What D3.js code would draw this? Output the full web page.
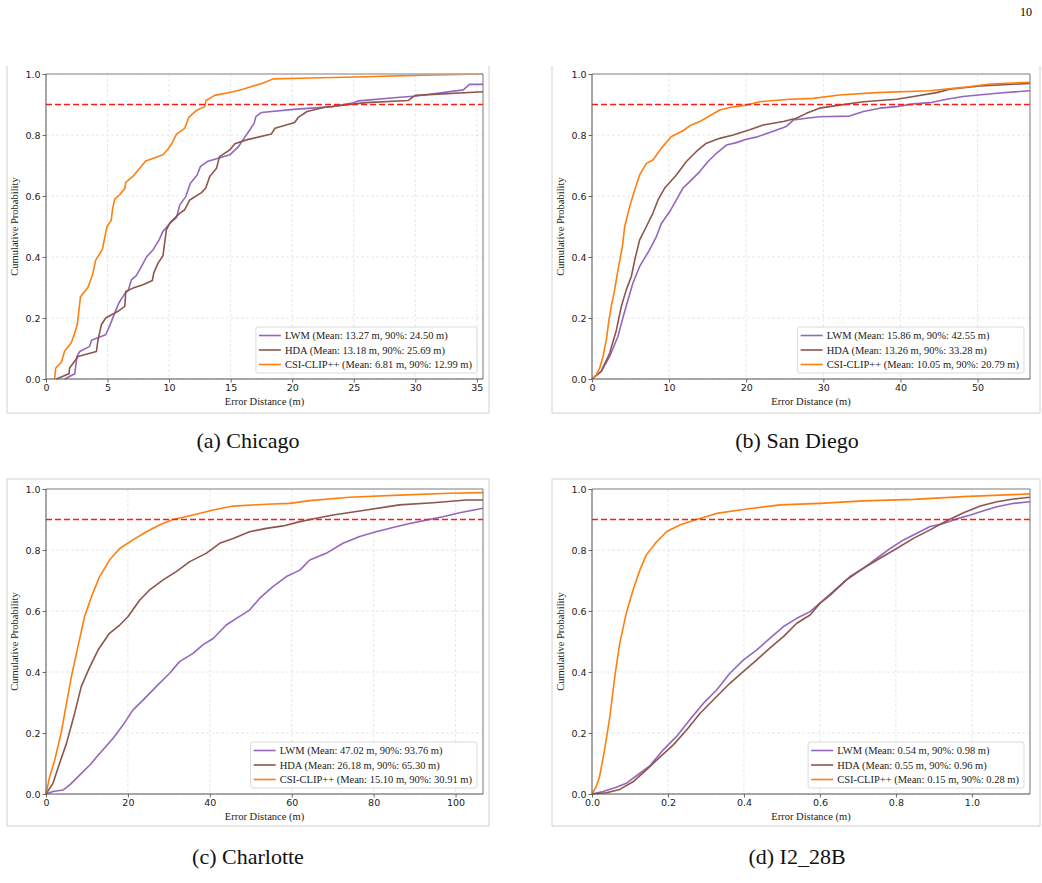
<!DOCTYPE html>
<html>
<head>
<meta charset="utf-8">
<script src="https://cdn.jsdelivr.net/npm/d3@7"></script>
<style>
  body { margin: 0; background: #fff; }
  svg { display: block; }
  .tick text { font-family: "DejaVu Sans", sans-serif; font-size: 9.5px; fill: #222; }
</style>
</head>
<body>
<svg id="fig" width="1042" height="883"></svg>
<script>
// ---- data ----
var seriesNames = ["LWM", "HDA", "CSI-CLIP++"];
var seriesColors = ["#9467bd", "#8c564b", "#ff7f0e"];
var captions = ["(a) Chicago", "(b) San Diego", "(c) Charlotte", "(d) I2_28B"];

var legendStats = [
  ["(Mean: 13.27 m, 90%: 24.50 m)", "(Mean: 13.18 m, 90%: 25.69 m)", "(Mean: 6.81 m, 90%: 12.99 m)"],
  ["(Mean: 15.86 m, 90%: 42.55 m)", "(Mean: 13.26 m, 90%: 33.28 m)", "(Mean: 10.05 m, 90%: 20.79 m)"],
  ["(Mean: 47.02 m, 90%: 93.76 m)", "(Mean: 26.18 m, 90%: 65.30 m)", "(Mean: 15.10 m, 90%: 30.91 m)"],
  ["(Mean: 0.54 m, 90%: 0.98 m)", "(Mean: 0.55 m, 90%: 0.96 m)", "(Mean: 0.15 m, 90%: 0.28 m)"]
];

var xMax = [35.5, 56.8, 106.7, 1.153];
var xTicks = [
  [0, 5, 10, 15, 20, 25, 30, 35],
  [0, 10, 20, 30, 40, 50],
  [0, 20, 40, 60, 80, 100],
  [0, 0.2, 0.4, 0.6, 0.8, 1.0]
];
var yTicks = [0, 0.2, 0.4, 0.6, 0.8, 1.0];
var threshold = 0.9;

// CDF points [error, probability]
var chicagoLWM = [[1.52,0],[2.33,0.017],[2.52,0.074],[2.74,0.09],[3.55,0.107],[3.69,0.127],[4.36,0.138],[4.85,0.145],[5.18,0.175],[5.58,0.216],[5.93,0.25],[6.4,0.28],[6.67,0.29],[6.94,0.325],[7.35,0.34],[7.6,0.358],[7.88,0.378],[8.16,0.40],[8.7,0.424],[9.19,0.456],[9.5,0.484],[10.05,0.509],[10.6,0.53],[10.87,0.571],[11.35,0.598],[11.73,0.642],[12.28,0.669],[12.55,0.697],[13.1,0.713],[13.85,0.722],[14.93,0.735],[15.6,0.76],[16.0,0.784],[16.56,0.817],[16.9,0.838],[17.05,0.86],[17.5,0.874],[20.1,0.884],[23.3,0.893],[25.0,0.906],[25.4,0.912],[28.75,0.924],[30.1,0.928],[33.9,0.948],[34.4,0.966],[35.5,0.966]];
var chicagoHDA = [[0.84,0],[1.87,0.017],[1.92,0.036],[2.6,0.074],[4.09,0.09],[4.23,0.129],[4.5,0.178],[4.85,0.2],[5.85,0.222],[6.4,0.238],[6.48,0.287],[7.07,0.298],[7.88,0.309],[8.64,0.323],[8.75,0.347],[9.1,0.38],[9.5,0.404],[9.78,0.489],[10.05,0.511],[10.87,0.544],[11.27,0.555],[11.68,0.587],[12.63,0.611],[12.98,0.626],[13.3,0.664],[13.85,0.691],[14.1,0.729],[14.93,0.751],[15.34,0.771],[16.29,0.784],[18.3,0.803],[18.6,0.822],[20.2,0.841],[20.5,0.858],[21.2,0.877],[22.66,0.891],[26.0,0.906],[29.4,0.913],[30.0,0.93],[35.5,0.942]];
var chicagoCLIP = [[0.7,0],[0.79,0.036],[1.25,0.055],[1.5,0.09],[2.06,0.12],[2.33,0.15],[2.55,0.18],[2.8,0.27],[3.4,0.30],[3.77,0.34],[4.04,0.39],[4.58,0.425],[4.85,0.48],[4.96,0.50],[5.3,0.52],[5.4,0.555],[5.58,0.59],[6.0,0.605],[6.4,0.625],[6.48,0.645],[7.07,0.665],[8.1,0.715],[9.5,0.735],[9.9,0.753],[10.3,0.778],[10.6,0.803],[11.27,0.822],[11.6,0.858],[12.2,0.88],[12.9,0.893],[13.0,0.913],[13.7,0.93],[15.2,0.942],[16.0,0.95],[17.6,0.97],[18.45,0.984],[20.6,0.986],[26,0.991],[31.5,0.997],[35.5,1.0]];

var sandiegoLWM = [[0,0],[1.2,0.025],[2.3,0.074],[3.37,0.14],[4.0,0.2],[4.67,0.26],[5.3,0.314],[6.18,0.369],[7.48,0.424],[8.35,0.467],[9.0,0.51],[10.08,0.549],[10.94,0.587],[11.8,0.626],[12.9,0.653],[13.97,0.68],[15.05,0.713],[16.13,0.74],[17.43,0.767],[18.73,0.775],[20.0,0.786],[21.3,0.793],[23.05,0.808],[25.2,0.828],[26.1,0.849],[27.8,0.855],[29.5,0.86],[33.4,0.862],[35.2,0.877],[37.3,0.888],[39.5,0.893],[41.7,0.902],[43.8,0.906],[46.0,0.917],[48.1,0.926],[52.5,0.937],[56.8,0.945]];
var sandiegoHDA = [[0,0],[1.2,0.025],[2.3,0.085],[3.16,0.16],[3.8,0.238],[4.45,0.293],[5.1,0.336],[5.54,0.39],[6.18,0.456],[7.05,0.5],[7.9,0.544],[8.56,0.587],[9.43,0.626],[10.94,0.669],[12.24,0.713],[13.54,0.746],[14.84,0.773],[16.57,0.789],[18.3,0.80],[20.46,0.817],[22.2,0.833],[24.8,0.844],[26.5,0.855],[27.8,0.871],[29.5,0.888],[32.1,0.898],[35.2,0.909],[39.5,0.917],[41.7,0.926],[44.7,0.939],[46.4,0.95],[50.3,0.961],[56.8,0.969]];
var sandiegoCLIP = [[0,0],[0.56,0.014],[1.0,0.036],[1.43,0.074],[1.86,0.129],[2.2,0.194],[2.5,0.238],[2.94,0.293],[3.37,0.358],[3.94,0.434],[4.24,0.5],[4.89,0.566],[5.54,0.62],[6.18,0.669],[7.05,0.707],[7.9,0.718],[9.0,0.757],[10.3,0.795],[11.8,0.814],[12.67,0.83],[13.97,0.844],[15.05,0.86],[16.57,0.882],[17.86,0.89],[20.0,0.898],[21.75,0.909],[25.65,0.917],[28.7,0.92],[32.1,0.931],[36.9,0.939],[43.8,0.945],[48.1,0.956],[51.6,0.967],[56.8,0.973]];

var charlotteLWM = [[0,0],[1.7,0.008],[4.15,0.013],[5.8,0.03],[8.2,0.062],[10.7,0.095],[13.1,0.133],[16.4,0.183],[18.8,0.226],[21.2,0.275],[23.7,0.308],[26.9,0.352],[30.2,0.396],[32.6,0.434],[35.9,0.461],[38.3,0.489],[40.8,0.51],[44.0,0.554],[46.5,0.576],[49.7,0.603],[52.2,0.642],[55.4,0.68],[58.7,0.713],[62.0,0.734],[64.4,0.767],[68.4,0.789],[72.5,0.822],[76.6,0.844],[80.6,0.86],[84.7,0.874],[88.8,0.887],[92.8,0.898],[96.9,0.909],[101.0,0.922],[106.7,0.937]];
var charlotteHDA = [[0,0],[1.7,0.035],[3.3,0.1],[5.0,0.166],[7.0,0.265],[8.6,0.352],[10.7,0.417],[12.7,0.472],[15.5,0.527],[18.0,0.554],[20.0,0.581],[22.9,0.636],[25.3,0.669],[28.6,0.702],[31.8,0.729],[35.1,0.762],[39.1,0.789],[42.4,0.822],[45.7,0.838],[49.7,0.86],[53.8,0.871],[57.9,0.879],[62.0,0.893],[66.0,0.904],[70.1,0.915],[78.2,0.931],[86.3,0.948],[94.5,0.955],[102.6,0.964],[106.7,0.964]];
var charlotteCLIP = [[0,0],[0.9,0.057],[2.1,0.11],[3.7,0.2],[5.0,0.297],[6.2,0.385],[7.8,0.483],[9.4,0.581],[11.1,0.647],[13.1,0.713],[15.5,0.767],[18.0,0.805],[21.2,0.833],[24.5,0.86],[27.7,0.882],[31.0,0.90],[35.9,0.915],[40.8,0.931],[45.7,0.944],[53.8,0.95],[59.5,0.953],[64.4,0.962],[74.1,0.973],[86.3,0.98],[98.5,0.986],[106.7,0.988]];

var i228bLWM = [[0,0],[0.029,0.008],[0.064,0.022],[0.09,0.035],[0.126,0.068],[0.152,0.092],[0.187,0.144],[0.222,0.188],[0.257,0.243],[0.293,0.297],[0.328,0.341],[0.363,0.396],[0.398,0.439],[0.433,0.472],[0.468,0.51],[0.504,0.549],[0.539,0.576],[0.574,0.598],[0.609,0.636],[0.644,0.674],[0.679,0.713],[0.714,0.74],[0.75,0.773],[0.785,0.805],[0.82,0.833],[0.855,0.855],[0.89,0.877],[0.925,0.887],[0.96,0.902],[0.996,0.915],[1.031,0.929],[1.066,0.942],[1.11,0.953],[1.153,0.958]];
var i228bHDA = [[0,0],[0.038,0.004],[0.073,0.015],[0.108,0.04],[0.143,0.079],[0.178,0.12],[0.214,0.161],[0.249,0.21],[0.284,0.264],[0.319,0.308],[0.363,0.363],[0.398,0.401],[0.433,0.439],[0.468,0.478],[0.504,0.516],[0.539,0.56],[0.574,0.587],[0.6,0.625],[0.627,0.652],[0.67,0.702],[0.714,0.74],[0.758,0.773],[0.802,0.805],[0.846,0.838],[0.89,0.866],[0.934,0.896],[0.978,0.922],[1.022,0.944],[1.066,0.958],[1.11,0.967],[1.153,0.973]];
var i228bCLIP = [[0,0],[0.011,0.024],[0.02,0.057],[0.033,0.144],[0.047,0.254],[0.06,0.385],[0.073,0.494],[0.09,0.592],[0.108,0.669],[0.126,0.734],[0.143,0.784],[0.17,0.827],[0.196,0.86],[0.231,0.882],[0.275,0.90],[0.328,0.92],[0.398,0.933],[0.495,0.948],[0.6,0.953],[0.714,0.961],[0.846,0.966],[0.978,0.975],[1.153,0.984]];

var curves = [
  [chicagoLWM, chicagoHDA, chicagoCLIP],
  [sandiegoLWM, sandiegoHDA, sandiegoCLIP],
  [charlotteLWM, charlotteHDA, charlotteCLIP],
  [i228bLWM, i228bHDA, i228bCLIP]
];

// ---- layout ----
var panels = [
  {x0: 46, x1: 483, y0: 74, y1: 379, box: [7, 66, 489, 413], capX: 248, capY: 448},
  {x0: 592, x1: 1030, y0: 74, y1: 379, box: [552, 66, 1040, 413], capX: 797, capY: 448},
  {x0: 46, x1: 483, y0: 489, y1: 794, box: [7, 479, 489, 826], capX: 248, capY: 864},
  {x0: 592, x1: 1030, y0: 489, y1: 794, box: [552, 479, 1040, 826], capX: 797, capY: 864}
];

var svg = d3.select("#fig");

//page number
svg.append("text")
  .attr("x", 1032).attr("y", 16)
  .attr("text-anchor", "end")
  .attr("font-family", "'Liberation Serif', serif")
  .attr("font-size", 12)
  .text("10");

panels.forEach(function(p, k) {
  var g = svg.append("g");

  //figure frame (light grey)
  g.append("path")
    .attr("d", "M" + p.box[0] + "," + p.box[1] + "V" + p.box[3] + "H" + p.box[2] + "V" + p.box[1] + (k >= 2 ? "H" + p.box[0] : ""))
    .attr("fill", "none")
    .attr("stroke", "#d0d0d0")
    .attr("stroke-width", 1);

  var x = d3.scaleLinear().domain([0, xMax[k]]).range([p.x0, p.x1]);
  var y = d3.scaleLinear().domain([0, 1]).range([p.y1, p.y0]);

  //grid
  g.append("g").selectAll("line.gx").data(xTicks[k]).enter().append("line")
    .attr("x1", function(d) { return x(d); }).attr("x2", function(d) { return x(d); })
    .attr("y1", p.y0).attr("y2", p.y1)
    .attr("stroke", "#e2e2e2").attr("stroke-dasharray", "3,2").attr("stroke-width", 0.8);
  g.append("g").selectAll("line.gy").data(yTicks).enter().append("line")
    .attr("x1", p.x0).attr("x2", p.x1)
    .attr("y1", function(d) { return y(d); }).attr("y2", function(d) { return y(d); })
    .attr("stroke", "#e2e2e2").attr("stroke-dasharray", "3,2").attr("stroke-width", 0.8);

  //axes
  var fmtX = k === 3 ? d3.format(".1f") : d3.format("d");
  var xAxis = g.append("g")
    .attr("transform", "translate(0," + p.y1 + ")")
    .call(d3.axisBottom(x).tickValues(xTicks[k]).tickFormat(fmtX).tickSize(3.5).tickPadding(1.5));
  var yAxis = g.append("g")
    .attr("transform", "translate(" + p.x0 + ",0)")
    .call(d3.axisLeft(y).tickValues(yTicks).tickFormat(d3.format(".1f")).tickSize(3.5).tickPadding(2));
  [xAxis, yAxis].forEach(function(a) {
    a.select(".domain").remove();
    a.selectAll(".tick line").attr("stroke", "#444").attr("stroke-width", 0.8);
  });

  //curves
  var line = d3.line().x(function(d) { return x(d[0]); }).y(function(d) { return y(d[1]); });
  curves[k].forEach(function(c, i) {
    g.append("path")
      .attr("d", line(c))
      .attr("fill", "none")
      .attr("stroke", seriesColors[i])
      .attr("stroke-width", 1.6)
      .attr("stroke-linejoin", "round");
  });

  //90% line
  g.append("line")
    .attr("x1", p.x0).attr("x2", p.x1)
    .attr("y1", y(threshold)).attr("y2", y(threshold))
    .attr("stroke", "#ff1a1a").attr("stroke-width", 1.4).attr("stroke-dasharray", "6,3");

  //spines
  g.append("line").attr("x1", p.x0).attr("x2", p.x1).attr("y1", p.y0).attr("y2", p.y0)
    .attr("stroke", "#aaa").attr("stroke-width", 1.6);
  g.append("line").attr("x1", p.x1).attr("x2", p.x1).attr("y1", p.y0).attr("y2", p.y1)
    .attr("stroke", "#777").attr("stroke-width", 1);
  g.append("line").attr("x1", p.x0).attr("x2", p.x0).attr("y1", p.y0).attr("y2", p.y1)
    .attr("stroke", "#555").attr("stroke-width", 1);
  g.append("line").attr("x1", p.x0).attr("x2", p.x1).attr("y1", p.y1).attr("y2", p.y1)
    .attr("stroke", "#555").attr("stroke-width", 1);

  //axis labels
  g.append("text")
    .attr("x", (p.x0 + p.x1) / 2).attr("y", p.y1 + 26)
    .attr("text-anchor", "middle")
    .attr("font-family", "'Liberation Serif', serif").attr("font-size", 10.5)
    .attr("fill", "#222")
    .text("Error Distance (m)");
  g.append("text")
    .attr("transform", "translate(" + (p.x0 - 28) + "," + ((p.y0 + p.y1) / 2) + ") rotate(-90)")
    .attr("text-anchor", "middle")
    .attr("font-family", "'Liberation Serif', serif").attr("font-size", 10.5)
    .attr("fill", "#222")
    .text("Cumulative Probability");

  //legend
  var lg = g.append("g");
  var box = lg.append("rect")
    .attr("fill", "#fff").attr("fill-opacity", 0.85)
    .attr("stroke", "#d0d0d0").attr("stroke-width", 0.8).attr("rx", 2);
  var maxW = 0;
  seriesNames.forEach(function(n, i) {
    var row = lg.append("g").attr("transform", "translate(0," + (i * 14.5) + ")");
    row.append("line").attr("x1", 3).attr("x2", 25).attr("y1", 0).attr("y2", 0)
      .attr("stroke", seriesColors[i]).attr("stroke-width", 1.6);
    var t = row.append("text").attr("x", 29).attr("y", 3.5)
      .attr("font-family", "'Liberation Serif', serif").attr("font-size", 10.5)
      .attr("fill", "#222")
      .text(n + " " + legendStats[k][i]);
    maxW = Math.max(maxW, t.node().getComputedTextLength());
  });
  var bw = 29 + maxW + 5, bh = 46;
  box.attr("x", 0).attr("y", -8.5).attr("width", bw).attr("height", bh);
  lg.attr("transform", "translate(" + (p.x1 - 6 - bw) + "," + (p.y1 - 6 - bh + 8.5) + ")");

  //caption
  svg.append("text")
    .attr("x", p.capX).attr("y", p.capY)
    .attr("text-anchor", "middle")
    .attr("font-family", "'Liberation Serif', serif").attr("font-size", 22)
    .attr("fill", "#111")
    .text(captions[k]);
});
</script>
</body>
</html>
